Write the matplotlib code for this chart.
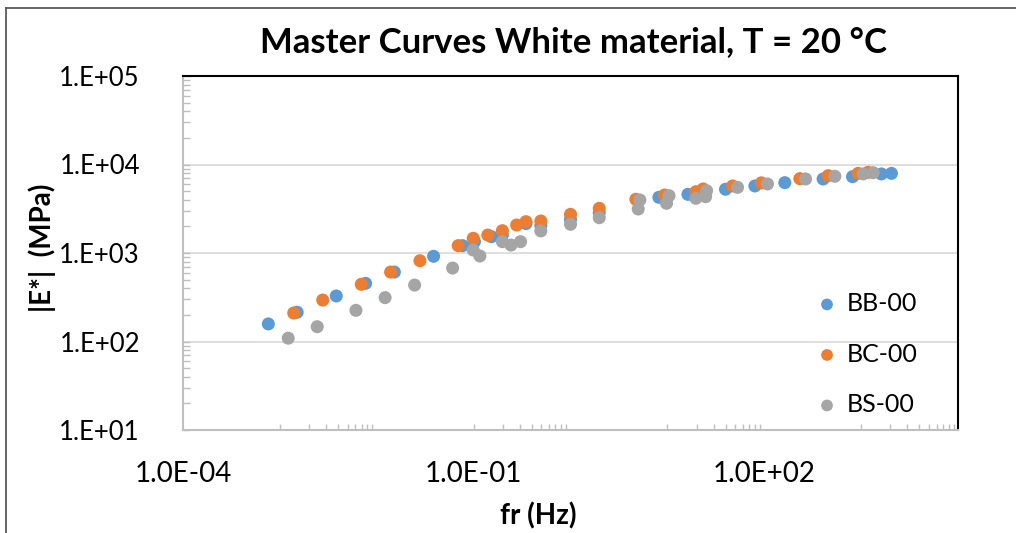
import matplotlib
matplotlib.use("Agg")
import matplotlib.pyplot as plt
from matplotlib.ticker import FixedLocator, FixedFormatter, LogLocator, NullFormatter
from matplotlib.lines import Line2D

# ---------------- data ----------------
bb_freq = [7.6e-4, 1.51e-3, 3.82e-3, 7.67e-3, 1.52e-2, 3.86e-2, 7.69e-2, 0.102, 0.153, 0.198,
           0.347, 0.494, 1.0, 1.98, 8.17, 16.3, 39.8, 80.0, 163, 405, 815, 1622, 2056]
bb_mod = [158, 214, 327, 454, 609, 918, 1211, 1343, 1528, 1596,
          2150, 2040, 2400, 2850, 4257, 4600, 5250, 5720, 6235, 6860, 7280, 7820, 7940]

bc_freq = [1.39e-3, 2.77e-3, 6.92e-3, 1.39e-2, 2.79e-2, 6.93e-2, 9.9e-2, 0.14, 0.198, 0.278,
           0.347, 0.494, 1.0, 1.98, 4.73, 9.35, 19.7, 23.4, 47.1, 93.3, 233, 457, 931, 1180]
bc_mod = [210, 294, 443, 609, 818, 1211, 1466, 1596, 1788, 2071,
          2260, 2300, 2735, 3198, 4045, 4520, 4930, 5290, 5720, 6200, 6920, 7470, 7940, 8160]

bs_freq = [1.22e-3, 2.43e-3, 6.1e-3, 1.22e-2, 2.46e-2, 6.07e-2, 9.9e-2, 0.116, 0.198, 0.243,
           0.305, 0.494, 1.0, 1.98, 5.0, 5.2, 9.8, 10.4, 19.7, 24.8, 25.4, 53.0, 108, 267, 536,
           1050, 1330]
bs_mod = [109, 147, 225, 313, 434, 676, 1081, 925, 1343, 1230,
          1343, 1776, 2110, 2505, 3141, 3973, 3645, 4440, 4150, 4325, 5060, 5520, 6025, 6860, 7360,
          7820, 8080]

series_labels = ["BB-00", "BC-00", "BS-00"]
x_major = [1e-4, 1e-1, 1e2]
x_major_labels = ["1.0E-04", "1.0E-01", "1.0E+02"]
y_major = [1e1, 1e2, 1e3, 1e4, 1e5]
y_major_labels = ["1.E+01", "1.E+02", "1.E+03", "1.E+04", "1.E+05"]
x_minor_decades = [-3, -1, 1, 3]

title = "Master Curves White material, T = 20 °C"
xlabel = "fr (Hz)"
ylabel = "|E*|  (MPa)"

# ---------------- style ----------------
plt.rcParams['font.family'] = ['Lato', 'DejaVu Sans']
colors = ["#5B9BD5", "#ED7D31", "#A5A5A5"]
W, H = 1016, 533
fig = plt.figure(figsize=(W / 100, H / 100), dpi=100)
ax = fig.add_axes([183 / W, 1 - 430 / H, (958 - 183) / W, (430 - 76) / H])

for fx, fy, c, lab in zip([bb_freq, bc_freq, bs_freq], [bb_mod, bc_mod, bs_mod], colors, series_labels):
    ax.scatter(fx, fy, s=88, color=c, edgecolors='none', label=lab, zorder=3)

ax.set_xscale('log')
ax.set_yscale('log')
ax.set_xlim(1e-4, 1e4)
ax.set_ylim(1e1, 1e5)

ax.xaxis.set_major_locator(FixedLocator(x_major))
ax.xaxis.set_major_formatter(FixedFormatter(x_major_labels))
x_minor = [k * 10.0 ** m for m in x_minor_decades for k in range(1, 10)]
ax.xaxis.set_minor_locator(FixedLocator(x_minor))
ax.xaxis.set_minor_formatter(NullFormatter())
ax.xaxis.remove_overlapping_locs = False

ax.yaxis.set_major_locator(FixedLocator(y_major))
ax.yaxis.set_major_formatter(FixedFormatter(y_major_labels))
ax.yaxis.set_minor_locator(LogLocator(base=10, subs=range(2, 10), numticks=20))
ax.yaxis.set_minor_formatter(NullFormatter())

tick_col = "#BFBFBF"
ax.tick_params(axis='x', which='major', length=0, pad=22, labelsize=20, labelcolor='black')
ax.tick_params(axis='x', which='minor', length=4.3, width=1.0, direction='in', color=tick_col)
ax.tick_params(axis='y', which='major', length=5, width=1.0, direction='in', color=tick_col,
               pad=31, labelsize=18.5, labelcolor='black')
ax.tick_params(axis='y', which='minor', length=5, width=1.0, direction='in', color=tick_col)

ax.grid(True, axis='y', which='major', color='#D9D9D9', lw=1.2, zorder=0)
ax.set_axisbelow(True)

for s in ['left', 'bottom']:
    ax.spines[s].set_color(tick_col)
    ax.spines[s].set_linewidth(1.5)
for s in ['top', 'right']:
    ax.spines[s].set_color('black')
    ax.spines[s].set_linewidth(1.5)

ax.set_xlabel(xlabel, fontsize=20, fontweight='bold', va='center')
ax.xaxis.set_label_coords((538 - 183) / 775, (430 - 516) / 354)
ax.set_ylabel(ylabel, fontsize=20, fontweight='bold', va='center')
ax.yaxis.set_label_coords((42 - 183) / 775, (430 - 248) / 354)

fig.text(574 / W, 1 - 42 / H, title, fontsize=25, fontweight='bold', ha='center', va='center')

leg = ax.legend(loc='upper left', bbox_to_anchor=(814.5 / W, 1 - 292 / H), bbox_transform=fig.transFigure,
                frameon=False, fontsize=18, handletextpad=0.28, handlelength=1.0, labelspacing=1.1,
                borderpad=0, borderaxespad=0, markerscale=0.9, scatterpoints=1)

# outer chart border (cropped)
fig.add_artist(Line2D([5.5 / W, 5.5 / W], [0, 1 - 8 / H], transform=fig.transFigure, color='#595959', lw=1.3))
fig.add_artist(Line2D([5.5 / W, 1], [1 - 8 / H, 1 - 8 / H], transform=fig.transFigure, color='#595959', lw=1.3))

fig.savefig("out.png", dpi=100)
